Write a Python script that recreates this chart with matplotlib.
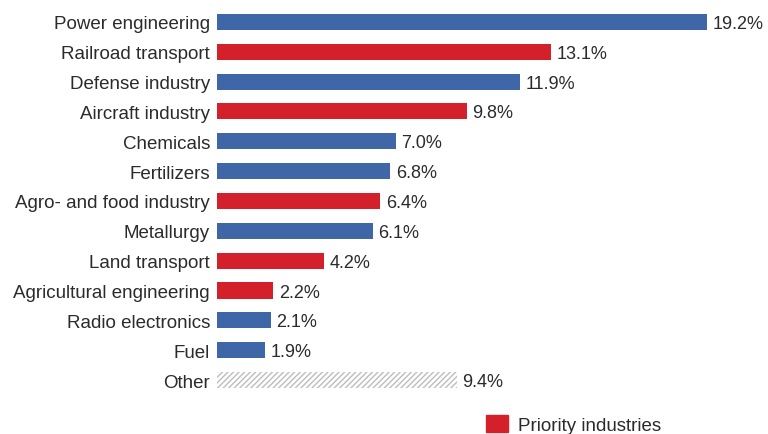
import matplotlib

matplotlib.use("Agg")
import matplotlib.pyplot as plt
from matplotlib.patches import Patch

plt.rcParams["font.family"] = ["Liberation Sans", "DejaVu Sans"]

industries = [
    "Power engineering",
    "Railroad transport",
    "Defense industry",
    "Aircraft industry",
    "Chemicals",
    "Fertilizers",
    "Agro- and food industry",
    "Metallurgy",
    "Land transport",
    "Agricultural engineering",
    "Radio electronics",
    "Fuel",
    "Other",
]
shares = [19.2, 13.1, 11.9, 9.8, 7.0, 6.8, 6.4, 6.1, 4.2, 2.2, 2.1, 1.9, 9.4]
priority = [False, True, False, True, False, False, True, False, True, True, False, False, None]

BLUE = "#3f66a6"
RED = "#d3202a"
TEXT = "#2b2b2b"

figure = plt.figure(figsize=(7.68, 4.35), dpi=100)
axis = figure.add_axes([217 / 768, 39 / 435, 551 / 768, 394 / 435])

for index, (value, flag) in enumerate(zip(shares, priority)):
    if flag is None:
        axis.barh(
            index,
            value,
            height=0.54,
            color="white",
            edgecolor="#bdbdbd",
            hatch="//////",
            linewidth=0,
        )
    else:
        axis.barh(
            index,
            value,
            height=0.54,
            color=RED if flag else BLUE,
        )
    axis.text(
        value + 0.22,
        index + 0.05,
        f"{value:.1f}%",
        ha="left",
        va="center",
        fontsize=13,
        color=TEXT,
    )

axis.set_xlim(0, 551 / 25.5)
axis.set_ylim(12.5, -0.7)
axis.set_yticks(range(len(industries)))
axis.set_yticklabels(industries, fontsize=13.5, color=TEXT)
axis.tick_params(axis="y", length=0, pad=5)
axis.set_xticks([])
for spine in axis.spines.values():
    spine.set_visible(False)

figure.legend(
    handles=[Patch(color=RED)],
    labels=["Priority industries"],
    loc="upper left",
    bbox_to_anchor=(486 / 768, 1 - 416 / 435),
    frameon=False,
    fontsize=13.5,
    handlelength=1.15,
    handleheight=1.0,
    handletextpad=0.55,
    borderpad=0,
    borderaxespad=0,
    labelcolor=TEXT,
)

figure.savefig("out.png", dpi=100)
